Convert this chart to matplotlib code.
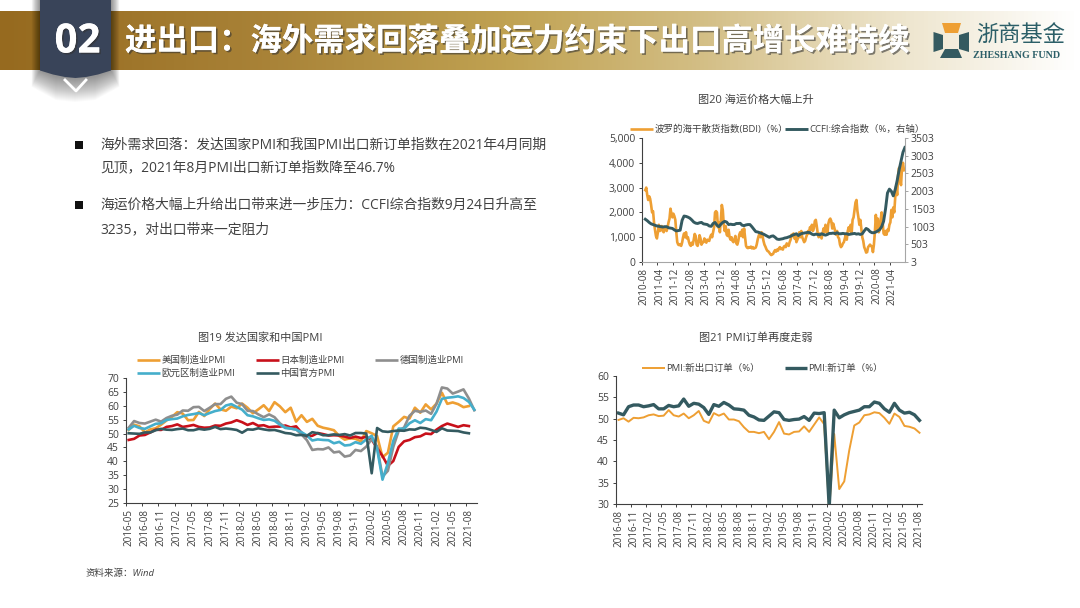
import numpy as np
import matplotlib
matplotlib.use("Agg")
import matplotlib.pyplot as plt
import matplotlib.patheffects as pe
from matplotlib.colors import LinearSegmentedColormap
from matplotlib.patches import Polygon, Rectangle

plt.rcParams['font.family'] = ['Open Sans', 'Noto Sans CJK SC', 'DejaVu Sans']

ORANGE = "#EE9F33"
RED = "#C8101A"
GREY = "#8E8E8E"
BLUE = "#45AECB"
TEAL = "#345A60"
TEXT = "#404040"

# Chart 19
pmi_labels = ["2016-05", "2016-08", "2016-11", "2017-02", "2017-05", "2017-08", "2017-11", "2018-02",
              "2018-05", "2018-08", "2018-11", "2019-02", "2019-05", "2019-08", "2019-11", "2020-02",
              "2020-05", "2020-08", "2020-11", "2021-02", "2021-05", "2021-08"]
us_pmi = [51.3, 53.2, 52.6, 50.4, 51.5, 51.9, 53.2, 54.7, 56.0, 57.7, 57.2, 54.8, 54.9, 57.8, 56.3, 58.8,
          60.8, 58.7, 58.2, 59.7, 59.1, 60.8, 59.3, 57.3, 58.7, 60.2, 58.1, 61.3, 59.8, 57.7, 59.3, 54.3,
          56.6, 54.2, 55.3, 52.8, 52.1, 51.7, 51.2, 49.1, 47.8, 48.3, 48.1, 47.2, 50.9, 50.1, 49.1, 41.5,
          43.1, 52.6, 54.2, 56.0, 55.4, 59.3, 57.5, 60.5, 58.7, 60.8, 64.7, 60.7, 61.2, 60.6, 59.5, 59.9]
japan_pmi = [47.7, 48.1, 49.3, 49.5, 50.4, 51.4, 51.3, 52.4, 52.7, 53.3, 52.4, 52.7, 53.1, 52.4, 52.1, 52.2,
             52.9, 52.8, 53.6, 54.0, 54.8, 54.1, 53.1, 53.8, 52.8, 53.0, 52.3, 52.5, 52.5, 52.9, 52.2, 52.6,
             50.3, 48.9, 49.2, 50.2, 49.8, 49.3, 49.4, 49.3, 48.9, 48.4, 48.9, 48.4, 48.8, 47.8, 44.8, 41.9,
             38.4, 40.1, 45.2, 47.2, 47.7, 48.7, 49.0, 50.0, 49.8, 51.4, 52.7, 53.6, 53.0, 52.4, 53.0, 52.7]
germany_pmi = [52.1, 54.5, 53.8, 53.6, 54.3, 55.0, 54.3, 55.6, 56.4, 56.8, 58.3, 58.2, 59.5, 59.6, 58.1, 59.3,
               60.6, 60.6, 62.5, 63.3, 61.1, 60.6, 58.2, 58.1, 56.9, 55.9, 56.9, 55.9, 53.7, 52.2, 51.8, 51.5,
               49.7, 47.6, 44.1, 44.4, 44.3, 45.0, 43.2, 43.5, 41.7, 42.1, 44.1, 43.7, 45.3, 48.0, 45.4, 34.5,
               36.6, 45.2, 51.0, 52.2, 56.4, 58.2, 57.8, 58.3, 57.1, 60.7, 66.6, 66.2, 64.4, 65.1, 65.9, 62.6, 58.4]
euro_pmi = [51.5, 52.8, 52.0, 51.7, 52.6, 53.5, 53.7, 54.9, 55.2, 55.4, 56.2, 56.7, 57.0, 57.4, 56.6, 57.4,
            58.1, 58.5, 60.1, 60.6, 59.6, 58.6, 56.6, 56.2, 55.5, 54.9, 55.1, 54.6, 53.2, 52.0, 51.8, 51.4,
            50.5, 49.3, 47.5, 47.9, 47.7, 47.6, 46.5, 47.0, 45.7, 45.9, 46.9, 46.3, 47.9, 49.2, 44.5, 33.4,
            39.4, 47.4, 51.8, 51.7, 53.7, 54.8, 53.8, 55.2, 54.8, 57.9, 62.5, 62.9, 63.1, 63.4, 62.8, 61.4, 58.6]
china_pmi = [50.1, 50.0, 49.9, 50.4, 50.4, 51.2, 51.7, 51.4, 51.3, 51.6, 51.8, 51.2, 51.2, 51.7, 51.4, 51.7,
             52.4, 51.6, 51.8, 51.6, 51.3, 50.3, 51.5, 51.4, 51.9, 51.5, 51.2, 51.3, 50.8, 50.2, 50.0, 49.4,
             49.5, 49.2, 50.5, 50.1, 49.4, 49.4, 49.7, 49.5, 49.8, 49.3, 50.2, 50.2, 50.0, 35.7, 52.0, 50.8,
             50.6, 50.9, 51.1, 51.0, 51.5, 51.4, 52.1, 51.9, 51.3, 50.6, 51.9, 51.1, 51.0, 50.9, 50.4, 50.1]

# Chart 21
order_labels = ["2016-08", "2016-11", "2017-02", "2017-05", "2017-08", "2017-11", "2018-02", "2018-05",
                "2018-08", "2018-11", "2019-02", "2019-05", "2019-08", "2019-11", "2020-02", "2020-05",
                "2020-08", "2020-11", "2021-02", "2021-05", "2021-08"]
export_orders = [49.7, 50.1, 49.3, 50.2, 50.1, 50.3, 50.8, 51.0, 50.6, 50.7, 52.0, 50.8, 50.5, 51.2, 50.1, 50.8,
                 51.8, 49.5, 49.0, 51.3, 50.7, 51.2, 49.8, 49.8, 49.4, 48.0, 46.9, 46.9, 46.6, 46.9, 45.2, 46.9,
                 49.2, 46.5, 46.3, 46.9, 47.0, 48.2, 46.9, 48.6, 50.3, 48.7, 28.7, 46.4, 33.5, 35.3, 42.6, 48.4,
                 49.1, 50.8, 51.0, 51.5, 51.3, 50.2, 48.8, 51.2, 50.4, 48.3, 48.1, 47.7, 46.7]
new_orders = [51.3, 50.9, 52.8, 53.2, 53.2, 52.8, 53.0, 53.3, 52.3, 52.3, 53.1, 52.8, 53.0, 54.6, 52.9, 53.6,
              53.4, 52.6, 51.0, 53.3, 52.9, 53.8, 53.2, 52.3, 52.2, 52.0, 50.8, 50.4, 49.7, 49.6, 50.6, 51.6,
              51.4, 49.8, 49.6, 49.8, 49.9, 50.5, 49.6, 51.3, 51.2, 51.4, 29.3, 52.0, 50.2, 50.9, 51.4, 51.7,
              52.0, 52.8, 52.8, 53.9, 53.6, 52.3, 51.5, 53.6, 52.0, 51.3, 51.5, 50.9, 49.6]

# Chart 20
freight_labels = ["2010-08", "2011-04", "2011-12", "2012-08", "2013-04", "2013-12", "2014-08", "2015-04",
                  "2015-12", "2016-08", "2017-04", "2017-12", "2018-08", "2019-04", "2019-12", "2020-08", "2021-04"]
bdi = [2900, 3000, 2700, 2500, 2650, 2550, 2300, 2000, 2050,
       1600, 1300, 1050, 950, 1200, 1500,
       1250, 1300, 1450, 1250, 1200, 1400, 1350, 1250, 1400, 1600,
       1750, 2150, 1950, 1800, 1950, 1850,
       1700, 1200, 800, 700, 680, 720, 650, 780, 1000, 1150, 1000, 1200, 950, 1000, 820,
       700, 650, 780, 700, 900, 1130, 1050, 700, 650, 800, 1080, 950, 700, 780, 800,
       950, 850, 780, 900, 870, 850, 1000, 1100, 1000, 1200, 1400, 2000,
       2050, 2000, 1400, 1600, 1200, 1700, 2300,
       2100, 1500, 1250, 1450, 1100, 1050, 1300, 1000, 900, 1000, 850,
       800, 900, 1050, 750, 700, 850, 1100, 1200, 1050, 1300, 1000, 1350, 1000, 650, 580,
       560, 600, 580, 620, 550, 600, 540, 560, 580, 700, 900, 1050, 1150, 1000, 1200, 1050, 850,
       700, 620, 520, 450, 430, 380, 320, 280, 300, 330, 420, 480, 420, 500, 460, 550, 600, 520,
       550, 500, 620, 650, 600, 750, 700, 650, 800, 900, 1100, 1050, 1150, 950, 1050,
       800, 900, 1000, 1200, 1000, 1250, 1000, 900, 800, 850, 1000, 1100, 1250, 1150, 1400, 1300, 1500, 1250, 1350, 1650,
       1700, 1450, 1150, 1000, 1150, 1050, 950, 1150, 1350, 1200, 1500, 1300, 1150, 1550, 1700,
       1750, 1650, 1350, 1550, 1400, 1250, 1100, 1250, 1000, 950, 700, 600, 650, 750, 800,
       950, 1100, 900, 1250, 1400, 1250, 1500, 1150, 1700, 1800, 2100, 2400, 2500, 2050,
       1800, 1500, 1700, 1350, 1000, 850, 600, 500, 380, 400, 600, 650, 700, 650, 620, 400,
       700, 1200, 1900, 1300, 1750, 1200, 1300, 1700, 2000, 1600, 1150, 1100, 1250, 1100, 1300,
       1250, 1500, 1600, 2100, 1800, 2200, 2000, 2600, 3050, 2700, 3500, 3800, 3300, 3100, 3800, 4000, 3700]
ccfi = [1210, 1170, 1120, 1080, 1060,
        1040, 1020, 1010, 1000, 990, 1000,
        1000, 970, 960, 950, 910, 880,
        890, 900, 1180,
        1300, 1290, 1270, 1240, 1190, 1130,
        1100, 1090, 1110, 1120, 1080, 1070, 1060, 1020,
        1010, 1090, 1120, 1040, 1000, 1070, 1120,
        1150, 1130, 1060, 1070, 1060,
        1060, 1090, 1090, 1095, 1040, 1030, 1050, 1060, 1060, 1000,
        930, 860, 850, 830, 810, 790, 760, 730, 700, 730, 740, 700, 650, 640,
        650, 660, 680, 690, 710, 730, 760, 780, 800, 750, 790, 810, 820, 830, 840, 830,
        790, 770, 790, 780, 770, 800, 780, 760, 780, 810, 810, 820, 800, 830, 800,
        800, 810, 800, 800, 780, 790, 800, 810, 790, 800, 780, 800, 880, 950, 920, 860, 830,
        830, 850, 880, 920, 1000, 1150,
        1500, 1950, 2060, 2000, 1870, 2050, 2300, 2600, 2850, 3100, 3235]


def px_axes(left, top, right, bottom):
    return fig.add_axes([left / 1080, 1 - bottom / 608, (right - left) / 1080, (bottom - top) / 608])


def style_axis(ax, labels, label_pos, tick_pos, xmax, bottom_color="#404040"):
    ax.patch.set_alpha(0)
    ax.set_xlim(0, xmax)
    ax.spines["top"].set_visible(False)
    ax.spines["right"].set_visible(False)
    ax.spines["left"].set_color("#404040")
    ax.spines["bottom"].set_color(bottom_color)
    ax.set_xticks(label_pos)
    ax.set_xticklabels(labels, rotation=90, fontsize=7.1, color=TEXT)
    ax.set_xticks(tick_pos, minor=True)
    ax.tick_params(axis="x", which="major", length=0, pad=4)
    ax.tick_params(axis="x", which="minor", length=2.5, width=0.7, color="#404040")
    ax.tick_params(axis="y", length=2.5, width=0.7, color="#404040", labelsize=7.5, labelcolor=TEXT, pad=2.5)


def legend_item(x0, x1, y, color, lw, label):
    bg.plot([x0, x1], [y, y], color=color, lw=lw, solid_capstyle="butt")
    bg.text(x1 + 1.5, y, label, fontsize=6.8, color=TEXT, va="center", ha="left")


fig = plt.figure(figsize=(10.8, 6.08), dpi=100, facecolor="white")

# background layer in pixel coordinates
bg = fig.add_axes([0, 0, 1, 1])
bg.set_xlim(0, 1080)
bg.set_ylim(608, 0)
bg.axis("off")

band = LinearSegmentedColormap.from_list(
    "band", [(0, "#966A1F"), (0.25, "#A98338"), (0.47, "#C0A252"), (0.65, "#D3BE85"),
             (0.83, "#EDE4CB"), (1, "#FFFFFF")])
bg.imshow(np.linspace(0, 1, 540).reshape(1, -1), cmap=band, extent=(0, 1080, 70, 11), aspect="auto", zorder=1)
bg.set_xlim(0, 1080)
bg.set_ylim(608, 0)

# tag with soft shadow, many thin layers so no steps show
for grow in range(1, 25):
    side = grow * 0.35
    bg.add_patch(Polygon([(40 - side, 0), (111 + side, 0), (111 + side, 70 + grow * 0.7),
                          (95, 76 + grow), (75, 78 + grow), (56, 76 + grow), (40 - side, 70 + grow * 0.7)],
                         fc="black", ec="none", alpha=0.018, zorder=2))
bg.add_patch(Polygon([(40, 0), (111, 0), (111, 70.5), (98, 74.5), (86, 77), (75.5, 78), (65, 77), (53, 74.5), (40, 70.5)],
                     fc="#394459", ec="none", zorder=3))
bg.plot([65, 76, 86], [80, 91, 80], color="white", lw=2, zorder=4)

shadow = [pe.withSimplePatchShadow(offset=(1.2, -1.2), shadow_rgbFace="#333333", alpha=0.6), pe.Normal()]
bg.text(77.5, 42, "02", fontsize=29, fontweight="bold", color="white", ha="center", va="center",
        family="Open Sans", path_effects=shadow, zorder=5)
bg.text(125, 42, "进出口：海外需求回落叠加运力约束下出口高增长难持续", fontsize=22.6, fontweight="bold",
        color="white", ha="left", va="center", path_effects=shadow, zorder=5)

# logo
bg.add_patch(Polygon([(942, 23), (961, 23), (958, 33), (945, 33)], fc="#EE9F33", ec="none", zorder=5))
bg.add_patch(Polygon([(933.5, 32), (943, 35), (943, 49), (933.5, 52)], fc=TEAL, ec="none", zorder=5))
bg.add_patch(Polygon([(969, 32), (959, 35), (959, 49), (969, 52)], fc=TEAL, ec="none", zorder=5))
bg.add_patch(Polygon([(945, 49), (958, 49), (962, 58), (940, 58)], fc=TEAL, ec="none", zorder=5))
bg.text(1021, 35, "浙商基金", fontsize=16, color="#2C5F68", ha="center", va="center", zorder=5)
bg.text(1017, 55, "ZHESHANG FUND", fontsize=7.2, color="#2C5F68", ha="center", va="center",
        family="Liberation Serif", fontweight="bold", zorder=5)

# body text
bullet_lines = [(145, "海外需求回落：发达国家PMI和我国PMI出口新订单指数在2021年4月同期"),
                (168, "见顶，2021年8月PMI出口新订单指数降至46.7%"),
                (205, "海运价格大幅上升给出口带来进一步压力：CCFI综合指数9月24日升高至"),
                (230, "3235，对出口带来一定阻力")]
for y, line in bullet_lines:
    bg.text(100, y, line, fontsize=9.95, color=TEXT, ha="left", va="center")
for y in [145, 205]:
    bg.add_patch(Rectangle((75, y - 4), 8, 8, fc="#111111", ec="none"))

bg.text(85, 573, "资料来源：Wind", fontsize=6.8, color=TEXT, ha="left", va="center", style="italic")

# chart titles and legends
bg.text(756, 100, "图20 海运价格大幅上升", fontsize=8, color=TEXT, ha="center", va="center")
bg.text(260, 338, "图19 发达国家和中国PMI", fontsize=8, color=TEXT, ha="center", va="center")
bg.text(756, 338, "图21 PMI订单再度走弱", fontsize=8, color=TEXT, ha="center", va="center")

legend_item(630, 653, 129, ORANGE, 1.9, "波罗的海干散货指数(BDI)（%）")
legend_item(785, 808, 129, TEAL, 2.1, "CCFI:综合指数（%，右轴）")
legend_item(137, 160, 360, ORANGE, 1.9, "美国制造业PMI")
legend_item(256, 279, 360, RED, 1.9, "日本制造业PMI")
legend_item(375, 398, 360, GREY, 1.9, "德国制造业PMI")
legend_item(137, 160, 373, BLUE, 1.9, "欧元区制造业PMI")
legend_item(256, 279, 373, TEAL, 1.9, "中国官方PMI")
legend_item(642, 665, 368, ORANGE, 1.4, "PMI:新出口订单（%）")
legend_item(785, 807, 368, TEAL, 2.4, "PMI:新订单（%）")

# chart 20
ax = px_axes(642, 138, 905, 262)
freight_ticks = np.arange(len(freight_labels)) * 16
style_axis(ax, freight_labels, freight_ticks + 2.5, freight_ticks, 271.5, bottom_color="#A6A6A6")
ax.plot(np.arange(len(bdi)) + 3.4, bdi, color=ORANGE, lw=1.9, solid_joinstyle="round")
ax.set_ylim(0, 5000)
ax.set_yticks([0, 1000, 2000, 3000, 4000, 5000])
ax.set_yticklabels(["0", "1,000", "2,000", "3,000", "4,000", "5,000"])
ax2 = ax.twinx()
ax2.patch.set_alpha(0)
ax2.plot(np.arange(len(ccfi)) * 2 + 3.4, ccfi, color=TEAL, lw=2.1, solid_joinstyle="round")
ax2.set_ylim(3, 3503)
ax2.set_yticks([3, 503, 1003, 1503, 2003, 2503, 3003, 3503])
ax2.tick_params(axis="y", length=2, width=0.7, color="#A6A6A6", labelsize=7.5, labelcolor=TEXT, pad=2)
ax2.spines["top"].set_visible(False)
ax2.spines["left"].set_visible(False)
ax2.spines["bottom"].set_visible(False)
ax2.spines["right"].set_color("#A6A6A6")

# chart 19
ax = px_axes(126, 378, 477, 503)
pmi_ticks = np.arange(len(pmi_labels)) * 3
style_axis(ax, pmi_labels, pmi_ticks + 0.5, pmi_ticks, 65)
for values, color in [(us_pmi, ORANGE), (japan_pmi, RED), (germany_pmi, GREY), (euro_pmi, BLUE), (china_pmi, TEAL)]:
    ax.plot(np.arange(len(values)) + 0.5, values, color=color, lw=1.9, solid_joinstyle="round")
ax.set_ylim(25, 70)
ax.set_yticks(range(25, 71, 5))

# chart 21
ax = px_axes(616, 376, 922, 504)
order_ticks = np.arange(len(order_labels)) * 3
style_axis(ax, order_labels, order_ticks + 0.5, order_ticks, 61)
ax.plot(np.arange(len(export_orders)) + 0.5, export_orders, color=ORANGE, lw=1.4)
ax.plot(np.arange(len(new_orders)) + 0.5, new_orders, color=TEAL, lw=2.4)
ax.set_ylim(30, 60)
ax.set_yticks(range(30, 61, 5))

fig.savefig("out.png", dpi=100)
